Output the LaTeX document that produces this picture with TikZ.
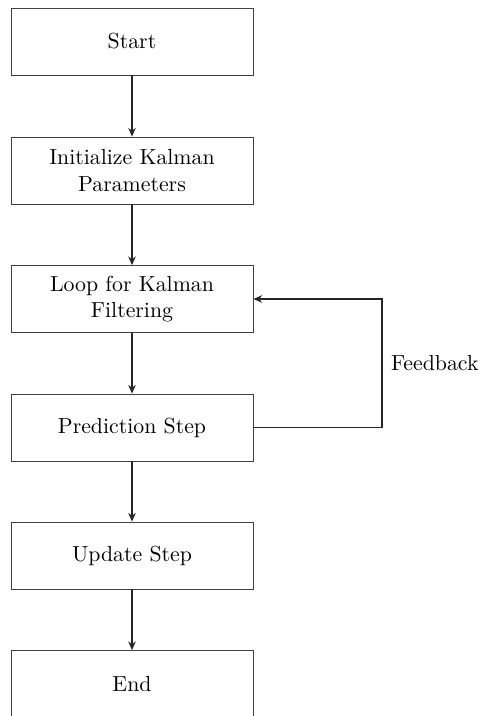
\documentclass[tikz,border=0pt]{standalone}
\usetikzlibrary{arrows.meta}
\begin{document}
\begin{tikzpicture}[x=0.4587pt,y=-0.4587pt,
  box/.style={draw=black!75,minimum width=111pt,minimum height=30.7pt,align=center,inner sep=2pt,font=\normalsize},
  conn/.style={draw=black!85,semithick,-{Stealth[length=4pt,width=3.5pt]}}]
\useasboundingbox (0,0) rectangle (481,716);
\node[box] (start) at (132,41.5) {Start};
\node[box] (init) at (132,170.5) {Initialize Kalman\\Parameters};
\node[box] (loop) at (132,299) {Loop for Kalman\\Filtering};
\node[box] (pred) at (132,427.5) {Prediction Step};
\node[box] (upd) at (132,555.5) {Update Step};
\node[box] (end) at (132,684) {End};
\coordinate (fa) at (382,427.5);
\coordinate (fb) at (382,299);
\draw[conn] (start) -- (init);
\draw[conn] (init) -- (loop);
\draw[conn] (loop) -- (pred);
\draw[conn] (pred) -- (upd);
\draw[conn] (upd) -- (end);
\draw[conn] (pred.east) -- (fa) -- node[right=0.5pt] (fbl) {Feedback} (fb) -- (loop.east);
\end{tikzpicture}
\end{document}
